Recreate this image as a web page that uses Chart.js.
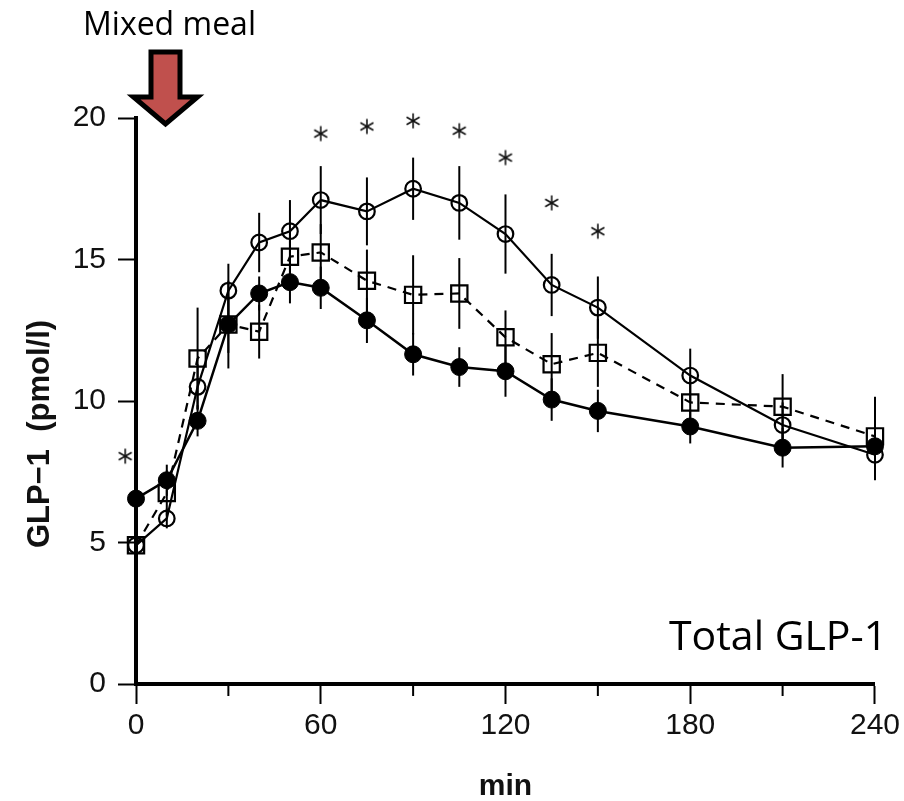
<!DOCTYPE html>
<html>
<head>
<meta charset="utf-8">
<script src="https://cdn.jsdelivr.net/npm/chart.js@4/dist/chart.umd.min.js"></script>
<style>
  html, body { margin: 0; padding: 0; background: #fff; }
  #wrap { width: 904px; height: 801px; position: relative; }
</style>
</head>
<body>
<div id="wrap"><canvas id="c" width="904" height="801"></canvas></div>
<script>
// ---- data ----
const times = [0, 10, 20, 30, 40, 50, 60, 75, 90, 105, 120, 135, 150, 180, 210, 240];

const openCircle    = [4.9, 5.85, 10.5, 13.9, 15.6, 16.0, 17.1, 16.7, 17.5, 17.0, 15.9, 14.1, 13.3, 10.9, 9.15, 8.1];
const openCircleErr = [0.3, 0.35, 0.8, 0.95, 1.05, 1.1, 1.2, 1.2, 1.1, 1.3, 1.4, 1.1, 1.1, 0.95, 0.8, 0.9];

const filledCircle    = [6.55, 7.2, 9.3, 12.7, 13.8, 14.2, 14.0, 12.85, 11.65, 11.2, 11.05, 10.05, 9.65, 9.1, 8.35, 8.4];
const filledCircleErr = [0.3, 0.55, 0.55, 1.55, 0.6, 0.75, 0.75, 0.8, 0.75, 0.7, 0.9, 0.75, 0.75, 0.6, 0.7, 0.6];

const openSquare    = [4.9, 6.75, 11.5, 12.7, 12.45, 15.1, 15.25, 14.25, 13.75, 13.8, 12.25, 11.3, 11.7, 9.95, 9.8, 8.75];
const openSquareErr = [0.4, 0.8, 1.8, 1.0, 0.95, 0.9, 1.0, 1.1, 1.4, 1.25, 0.95, 1.1, 1.2, 0.9, 1.15, 1.4];

const starTimes  = [-3.5, 60, 75, 90, 105, 120, 135, 150];
const starValues = [8.05, 19.45, 19.7, 19.9, 19.55, 18.6, 17.0, 16.0];

const xTicksMajor = [0, 60, 120, 180, 240];
const xTicksMinor = [30, 90, 150, 210];
const yTicks = [0, 5, 10, 15, 20];

const yTitle = 'GLP\u22121  (pmol/l)';
const xTitle = 'min';
const mealLabel = 'Mixed meal';
const panelLabel = 'Total GLP-1';

// ---- helpers ----
const toXY = (xs, ys) => xs.map((t, i) => ({ x: t, y: ys[i] }));

function asteriskCanvas() {
  const c = document.createElement('canvas');
  c.width = 20; c.height = 20;
  const g = c.getContext('2d');
  g.strokeStyle = '#111'; g.lineWidth = 1.6; g.lineCap = 'butt';
  const r = 7.5, cx = 10, cy = 10;
  for (const a of [90, 30, -30]) {
    const rad = a * Math.PI / 180;
    g.beginPath();
    g.moveTo(cx - r * Math.cos(rad), cy - r * Math.sin(rad));
    g.lineTo(cx + r * Math.cos(rad), cy + r * Math.sin(rad));
    g.stroke();
  }
  return c;
}

const series = [
  { vals: filledCircle, err: filledCircleErr },
  { vals: openCircle, err: openCircleErr },
  { vals: openSquare, err: openSquareErr }
];

const decorPlugin = {
  id: 'decor',
  beforeDatasetsDraw(chart) {
    const { ctx, scales: { x, y } } = chart;
    ctx.save();
    ctx.strokeStyle = '#000';
    ctx.lineWidth = 2;
    series.forEach(s => s.vals.forEach((v, i) => {
      const px = x.getPixelForValue(times[i]);
      ctx.beginPath();
      ctx.moveTo(px, y.getPixelForValue(v - s.err[i]));
      ctx.lineTo(px, y.getPixelForValue(v + s.err[i]));
      ctx.stroke();
    }));
    ctx.restore();
  },
  afterDraw(chart) {
    const { ctx, chartArea, scales: { x } } = chart;
    ctx.save();
    // minor x ticks
    ctx.strokeStyle = '#000';
    ctx.lineWidth = 2;
    xTicksMinor.forEach(t => {
      const px = x.getPixelForValue(t);
      ctx.beginPath();
      ctx.moveTo(px, chartArea.bottom);
      ctx.lineTo(px, chartArea.bottom + 12);
      ctx.stroke();
    });
    // axis titles
    ctx.fillStyle = '#111';
    ctx.font = 'bold 30px "Liberation Sans", Arial, sans-serif';
    ctx.textAlign = 'center';
    ctx.textBaseline = 'alphabetic';
    ctx.fillText(xTitle, (chartArea.left + chartArea.right) / 2, 795);
    ctx.save();
    ctx.translate(49, 434);
    ctx.rotate(-Math.PI / 2);
    ctx.font = 'bold 31px "Liberation Sans", Arial, sans-serif';
    ctx.fillText(yTitle, 0, 0);
    ctx.restore();
    // meal label and arrow
    ctx.fillStyle = '#000';
    ctx.font = '32px "Open Sans", "Noto Sans", sans-serif';
    ctx.textAlign = 'center';
    ctx.fillText(mealLabel, 169.5, 35);
    const cx = 165.5, sh = 14.5, top = 52, headY = 97, hh = 32, tip = 124;
    ctx.beginPath();
    ctx.moveTo(cx - sh, top);
    ctx.lineTo(cx + sh, top);
    ctx.lineTo(cx + sh, headY);
    ctx.lineTo(cx + hh, headY);
    ctx.lineTo(cx, tip);
    ctx.lineTo(cx - hh, headY);
    ctx.lineTo(cx - sh, headY);
    ctx.closePath();
    ctx.fillStyle = '#C0504D';
    ctx.fill();
    ctx.lineWidth = 5;
    ctx.lineJoin = 'miter';
    ctx.strokeStyle = '#000';
    ctx.stroke();
    // panel label
    ctx.fillStyle = '#000';
    ctx.font = '41px "Open Sans", "Noto Sans", sans-serif';
    ctx.textAlign = 'left';
    ctx.fillText(panelLabel, 669, 650);
    ctx.restore();
  }
};

const tickFont = { family: '"Liberation Sans", Arial, sans-serif', size: 30 };

new Chart(document.getElementById('c'), {
  type: 'line',
  data: {
    datasets: [
      {
        label: 'filled',
        data: toXY(times, filledCircle),
        borderColor: '#000', borderWidth: 2.5,
        pointStyle: 'circle', pointRadius: 8.5,
        pointBackgroundColor: '#000', pointBorderColor: '#000', pointBorderWidth: 1,
        tension: 0, clip: false
      },
      {
        label: 'open circle',
        data: toXY(times, openCircle),
        borderColor: '#000', borderWidth: 2.2,
        pointStyle: 'circle', pointRadius: 7.8,
        pointBackgroundColor: 'rgba(0,0,0,0)', pointBorderColor: '#000', pointBorderWidth: 2.2,
        tension: 0, clip: false
      },
      {
        label: 'open square',
        data: toXY(times, openSquare),
        borderColor: '#000', borderWidth: 2.2, borderDash: [9, 7],
        pointStyle: 'rect', pointRadius: 11.5,
        pointBackgroundColor: 'rgba(0,0,0,0)', pointBorderColor: '#000', pointBorderWidth: 2.2,
        tension: 0, clip: false
      },
      {
        label: 'significance',
        type: 'scatter',
        data: toXY(starTimes, starValues),
        showLine: false,
        pointStyle: asteriskCanvas(),
        pointRadius: 10,
        clip: false
      }
    ]
  },
  options: {
    responsive: false,
    animation: false,
    devicePixelRatio: 1,
    layout: { padding: { top: 118, right: 28, left: 0, bottom: 0 } },
    plugins: { legend: { display: false }, tooltip: { enabled: false } },
    scales: {
      x: {
        type: 'linear', min: 0, max: 240,
        afterFit: s => { s.height = 117; },
        afterBuildTicks: s => { s.ticks = xTicksMajor.map(v => ({ value: v })); },
        ticks: { color: '#111', font: tickFont, padding: 4, maxRotation: 0, autoSkip: false },
        grid: { drawOnChartArea: false, drawTicks: true, tickLength: 20, tickWidth: 2, tickColor: '#000' },
        border: { display: true, color: '#000', width: 4 }
      },
      y: {
        type: 'linear', min: 0, max: 20,
        afterFit: s => { s.width = 136; },
        afterBuildTicks: s => { s.ticks = yTicks.map(v => ({ value: v })); },
        ticks: { color: '#111', font: tickFont, padding: 12 },
        grid: { drawOnChartArea: false, drawTicks: true, tickLength: 18, tickWidth: 2, tickColor: '#000' },
        border: { display: true, color: '#000', width: 4 }
      }
    }
  },
  plugins: [decorPlugin]
});
</script>
</body>
</html>
